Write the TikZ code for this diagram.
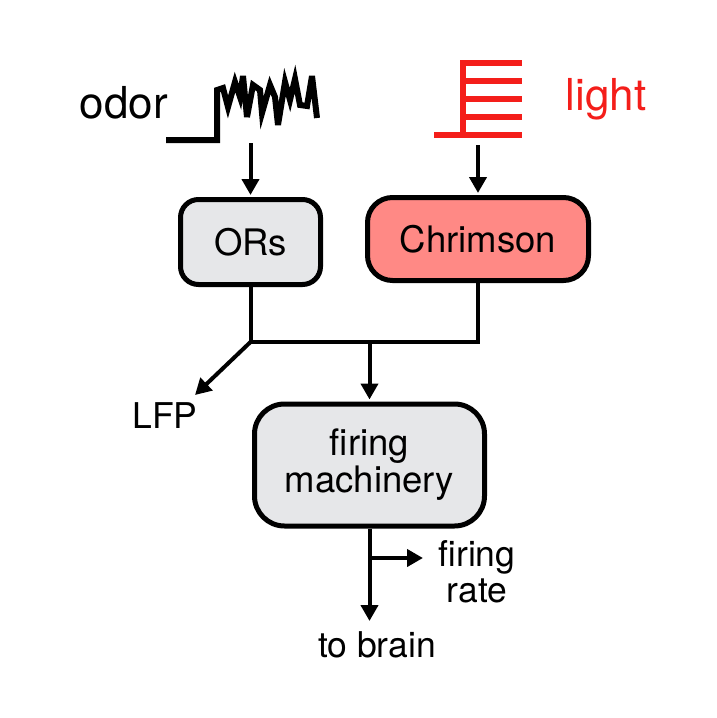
\documentclass[tikz,border=0pt]{standalone}
\usepackage{fontspec}
\setmainfont{TeX Gyre Heros}
\usetikzlibrary{arrows.meta}
\definecolor{boxgray}{HTML}{E6E7E9}
\definecolor{chrfill}{HTML}{FF8985}
\definecolor{lightred}{HTML}{F41E1A}
\begin{document}
\begin{tikzpicture}[x=1pt,y=-1pt,
  box/.style={draw=black,line width=5pt,fill=boxgray,rounded corners=#1,inner sep=0pt,
    font=\fontsize{36.5}{37}\selectfont,align=center},
  box/.default=18pt,
  conn/.style={line width=4pt},
  arr/.style={conn,-{Triangle[length=16pt,width=17pt]}},
  lbl/.style={inner sep=0pt,font=\fontsize{35.5}{36.5}\selectfont,align=center},
  big/.style={inner sep=0pt,font=\fontsize{44}{44}\selectfont,anchor=base},
  trace/.style={line width=6pt,miter limit=6}]
\useasboundingbox (0,0) rectangle (716,718);

% stimulus labels
\node[big] (odor) at (124,118) {odor};
\node[big,text=lightred] (light) at (606,110) {light};

% odor stimulus trace
\draw[trace,line join=miter] (166,140) -- (217,140) -- (217,90) -- (223,88) -- (228,107)
  -- (235,82) -- (240,97) -- (243,76) -- (247,117) -- (253,85) -- (260,90) -- (262,113)
  -- (270,85) -- (275,97) -- (278,125) -- (285,82) -- (290,100) -- (295,79) -- (300,105)
  -- (307,106) -- (312,76) -- (317,118);

% light stimulus pulses
\draw[trace,draw=lightred] (434,135) -- (522,135);
\draw[trace,draw=lightred] (463,135) -- (463,60);
\foreach \yy in {63,81,99,117}
  \draw[trace,draw=lightred] (460,\yy) -- (522,\yy);

% processing boxes
\node[box,minimum width=140pt,minimum height=85pt] (ors) at (250.5,242) {ORs};
\node[box=25pt,fill=chrfill,minimum width=221pt,minimum height=83pt] (chr) at (478,239) {Chrimson};
\node[box=30pt,minimum width=230pt,minimum height=122pt] (fire) at (369.5,465) {firing\\machinery};

% inputs
\coordinate (odorsrc) at (250.5,143);
\coordinate (lightsrc) at (478,145);
\draw[arr,shorten >=2pt] (odorsrc) -- (ors.north);
\draw[arr,shorten >=2pt] (lightsrc) -- (chr.north);

% merging of the two pathways
\coordinate (j1) at (250.5,342);
\coordinate (j2) at (478,342);
\coordinate (jm) at (369.5,342);
\draw[conn,line cap=rect] (ors.south) -- (j1) -- (j2) -- (chr.south);
\draw[arr,shorten >=2pt] (jm) -- (fire.north);

% LFP branch
\coordinate (lfptip) at (195,395);
\draw[arr] (j1) -- (lfptip);
\node[lbl,anchor=base] (lfp) at (165,428) {LFP};

% outputs
\coordinate (outtip) at (369.5,621);
\coordinate (branch) at (369.5,558);
\coordinate (ratetip) at (423,558);
\draw[arr] (fire.south) -- (outtip);
\draw[arr] (branch) -- (ratetip);
\node[lbl,anchor=north] (rate) at (477,540) {firing\\rate};
\node[lbl,anchor=base] (brain) at (377,657) {to brain};
\end{tikzpicture}
\end{document}
